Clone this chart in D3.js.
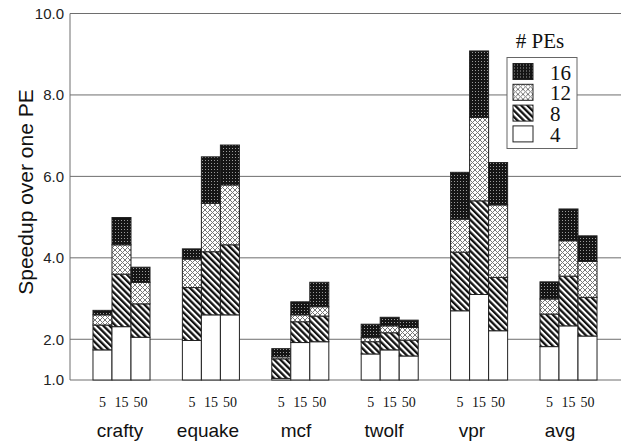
<!DOCTYPE html>
<html>
<head>
<meta charset="utf-8">
<script src="https://cdnjs.cloudflare.com/ajax/libs/d3/7.8.5/d3.min.js"></script>
<style>
  html, body { margin: 0; padding: 0; background: #fff; }
  svg { display: block; }
</style>
</head>
<body>
<svg id="chart" width="622" height="442"></svg>
<script>
  // benchmarks and the window sizes drawn under each bar
  var groups = ['crafty', 'equake', 'mcf', 'twolf', 'vpr', 'avg'];
  var windows = ['5', '15', '50'];
  var peCounts = [4, 8, 12, 16];
  var yTicks = [1, 2, 4, 6, 8, 10];

  // speedup reached with each PE count, one value per bar (group by group, 5/15/50)
  var speedup4 = [1.74, 2.31, 2.05, 1.97, 2.60, 2.60, 1.04, 1.92, 1.94, 1.64, 1.74, 1.59, 2.70, 3.10, 2.21, 1.82, 2.33, 2.08];
  var speedup8 = [2.35, 3.60, 2.87, 3.27, 4.15, 4.32, 1.52, 2.43, 2.57, 1.94, 2.16, 1.98, 4.14, 5.40, 3.52, 2.62, 3.55, 3.03];
  var speedup12 = [2.60, 4.32, 3.40, 3.97, 5.34, 5.79, 1.57, 2.60, 2.80, 2.04, 2.33, 2.29, 4.95, 7.45, 5.30, 2.99, 4.42, 3.91];
  var speedup16 = [2.71, 4.99, 3.77, 4.22, 6.48, 6.77, 1.77, 2.92, 3.40, 2.37, 2.54, 2.47, 6.10, 9.08, 6.34, 3.41, 5.20, 4.54];

  var speedups = [speedup4, speedup8, speedup12, speedup16];
  var fills = ['#fff', 'url(#hatch)', 'url(#cross)', 'url(#dots)'];

  var plotLeft = 70, plotRight = 621, plotBottom = 380, plotTop = 13.5;
  var sans = '"Liberation Sans", Arial, Helvetica, sans-serif';
  var serif = '"Liberation Serif", "Times New Roman", Times, serif';

  var svg = d3.select('#chart');

  //patterns for the stacked segments
  var defs = svg.append('defs');
  var hatch = defs.append('pattern')
      .attr('id', 'hatch')
      .attr('patternUnits', 'userSpaceOnUse')
      .attr('width', 4.4)
      .attr('height', 4.4)
      .attr('patternTransform', 'rotate(-45)');
  hatch.append('rect').attr('width', 4.4).attr('height', 4.4).attr('fill', '#fff');
  hatch.append('rect').attr('width', 2.3).attr('height', 4.4).attr('fill', '#111');

  var cross = defs.append('pattern')
      .attr('id', 'cross')
      .attr('patternUnits', 'userSpaceOnUse')
      .attr('width', 5)
      .attr('height', 5);
  cross.append('rect').attr('width', 5).attr('height', 5).attr('fill', '#fff');
  cross.append('path')
      .attr('d', 'M0,0L5,5M5,0L0,5')
      .attr('stroke', '#777')
      .attr('stroke-width', 1);

  var dots = defs.append('pattern')
      .attr('id', 'dots')
      .attr('patternUnits', 'userSpaceOnUse')
      .attr('width', 3)
      .attr('height', 3);
  dots.append('rect').attr('width', 3).attr('height', 3).attr('fill', '#151515');
  dots.append('rect').attr('x', 1).attr('y', 1).attr('width', 1).attr('height', 1).attr('fill', '#9a9a9a');

  // scales
  var y = d3.scaleLinear().domain([1, 10]).range([plotBottom, plotTop]);
  var x0 = d3.scaleBand()
      .domain(groups)
      .range([76.8, 613.2])
      .paddingInner(0.362)
      .paddingOuter(0.181);
  var x1 = d3.scaleBand()
      .domain(windows)
      .range([0, x0.bandwidth()]);
  // the benchmark names sit a little left of their bars
  var xLabel = d3.scalePoint().domain(groups).range([120, 560]);

  // gridlines
  svg.append('g')
      .selectAll('line')
      .data(yTicks.slice(1))
      .enter().append('line')
      .attr('x1', plotLeft)
      .attr('x2', plotRight)
      .attr('y1', function(d) { return y(d); })
      .attr('y2', function(d) { return y(d); })
      .attr('stroke', '#6e6e6e')
      .attr('stroke-width', 1);

  // y axis
  var yAxis = svg.append('g')
      .attr('transform', 'translate(' + plotLeft + ',0)')
      .call(d3.axisLeft(y).tickValues(yTicks).tickFormat(d3.format('.1f')).tickSize(0).tickPadding(6));
  yAxis.select('.domain').attr('stroke', '#6e6e6e').attr('d', 'M0,' + plotTop + 'V' + plotBottom);
  yAxis.selectAll('text')
      .attr('font-family', sans)
      .attr('font-size', 15)
      .attr('fill', '#222');

  svg.append('line')
      .attr('x1', plotLeft)
      .attr('x2', plotRight)
      .attr('y1', y(1))
      .attr('y2', y(1))
      .attr('stroke', '#6e6e6e');

  //build one record per stacked segment
  var segments = [];
  groups.forEach(function(g, gi) {
    windows.forEach(function(w, wi) {
      var idx = gi * windows.length + wi;
      var prev = 1;
      speedups.forEach(function(series, si) {
        segments.push({group: g, win: w, lo: prev, hi: series[idx], fill: fills[si]});
        prev = series[idx];
      });
    });
  });

  svg.append('g')
      .selectAll('rect')
      .data(segments)
      .enter().append('rect')
      .attr('x', function(d) { return x0(d.group) + x1(d.win); })
      .attr('y', function(d) { return y(d.hi); })
      .attr('width', x1.bandwidth())
      .attr('height', function(d) { return y(d.lo) - y(d.hi); })
      .attr('fill', function(d) { return d.fill; })
      .attr('stroke', '#222')
      .attr('stroke-width', 1);

  // window size labels under each bar
  var subLabels = [];
  groups.forEach(function(g) {
    windows.forEach(function(w) { subLabels.push({group: g, win: w}); });
  });
  svg.append('g')
      .selectAll('text')
      .data(subLabels)
      .enter().append('text')
      .attr('x', function(d) { return x0(d.group) + x1(d.win) + x1.bandwidth() / 2; })
      .attr('y', 407)
      .attr('text-anchor', 'middle')
      .attr('font-family', serif)
      .attr('font-size', 14)
      .attr('fill', '#111')
      .text(function(d) { return d.win; });

  svg.append('g')
      .selectAll('text')
      .data(groups)
      .enter().append('text')
      .attr('x', function(d) { return xLabel(d); })
      .attr('y', 437)
      .attr('text-anchor', 'middle')
      .attr('font-family', sans)
      .attr('font-size', 19)
      .attr('fill', '#111')
      .text(function(d) { return d; });

  svg.append('text')
      .attr('transform', 'translate(33,192) rotate(-90)')
      .attr('text-anchor', 'middle')
      .attr('font-family', sans)
      .attr('font-size', 21)
      .attr('fill', '#111')
      .text('Speedup over one PE');

  //legend
  var legend = svg.append('g');
  legend.append('text')
      .attr('x', 540)
      .attr('y', 48)
      .attr('text-anchor', 'middle')
      .attr('font-family', serif)
      .attr('font-size', 21)
      .attr('fill', '#111')
      .text('# PEs');
  legend.append('rect')
      .attr('x', 507)
      .attr('y', 57.5)
      .attr('width', 70)
      .attr('height', 91)
      .attr('fill', '#fff')
      .attr('stroke', '#666');

  var legendRows = peCounts.map(function(p, i) { return {pe: p, fill: fills[i]}; }).reverse();
  var row = legend.selectAll('g.row')
      .data(legendRows)
      .enter().append('g')
      .attr('class', 'row')
      .attr('transform', function(d, i) { return 'translate(513,' + (63.5 + i * 20.8) + ')'; });
  row.append('rect')
      .attr('width', 20)
      .attr('height', 16)
      .attr('fill', function(d) { return d.fill; })
      .attr('stroke', '#222');
  row.append('text')
      .attr('x', 37)
      .attr('y', 16)
      .attr('font-family', serif)
      .attr('font-size', 21)
      .attr('fill', '#111')
      .text(function(d) { return d.pe; });
</script>
</body>
</html>
